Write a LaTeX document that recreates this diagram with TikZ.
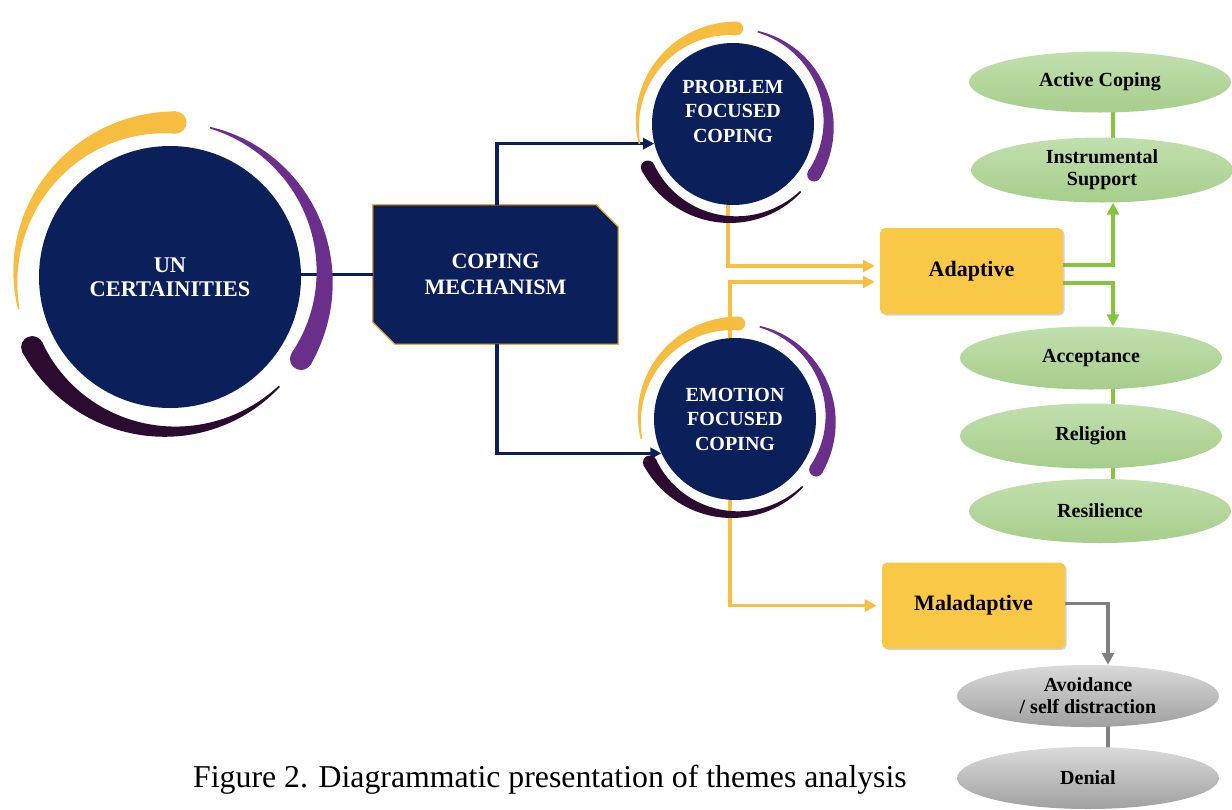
\documentclass[tikz,border=0pt]{standalone}
\usepackage{fontspec}
\setmainfont{Liberation Serif}
\usetikzlibrary{shapes.geometric,arrows.meta,shadows,backgrounds}

\definecolor{navy}{HTML}{0B1F5B}
\definecolor{ringyellow}{HTML}{F6BD41}
\definecolor{ringpurple}{HTML}{6A2F8B}
\definecolor{ringdark}{HTML}{2B0B30}
\definecolor{boxyellow}{HTML}{F9C846}
\definecolor{boxedge}{HTML}{E3AE35}
\definecolor{linkyellow}{HTML}{F8BE45}
\definecolor{leafgreen}{HTML}{A6CE8B}
\definecolor{leafgreenlight}{HTML}{C2DFAE}
\definecolor{linkgreen}{HTML}{86C440}
\definecolor{leafgray}{HTML}{A0A0A0}
\definecolor{leafgraylight}{HTML}{DADADA}
\definecolor{linkgray}{HTML}{808080}

% tapered arc around a hub: centre x, centre y, radius, thin-end angle, thick-end angle, max width, colour
\newcommand\taperarc[7]{%
  \fill[#7] plot[domain=#4:#5, samples=70, variable=\t]
      ({#1+(#3+(0.8+(#6/2-0.8)*(#4-\t)/(#4-#5)))*cos(\t)},
       {#2-(#3+(0.8+(#6/2-0.8)*(#4-\t)/(#4-#5)))*sin(\t)})
    -- plot[domain=#5:#4, samples=70, variable=\t]
      ({#1+(#3-(0.8+(#6/2-0.8)*(#4-\t)/(#4-#5)))*cos(\t)},
       {#2-(#3-(0.8+(#6/2-0.8)*(#4-\t)/(#4-#5)))*sin(\t)})
    -- cycle;
  \fill[#7] ({#1+#3*cos(#5)},{#2-#3*sin(#5)}) circle[radius={#6*0.5pt}];
}
% the three coloured rings of a hub of radius #3 centred at (#1,#2)
\newcommand\hubrings[3]{%
  \pgfmathsetmacro\ringrad{1.18*#3}%
  \pgfmathsetmacro\ringwid{0.17*#3}%
  \taperarc{#1}{#2}{\ringrad}{192}{88}{\ringwid}{ringyellow}
  \taperarc{#1}{#2}{\ringrad}{75}{-32}{\ringwid}{ringpurple}
  \taperarc{#1}{#2}{\ringrad}{-45}{-153}{\ringwid}{ringdark}
}

\tikzset{
  hub/.style={circle, fill=navy, inner sep=0pt, text=white, align=center,
    font=\fontsize{20}{24.5}\selectfont\bfseries},
  bighub/.style={hub, font=\fontsize{22.4}{24}\selectfont\bfseries},
  mechbox/.style={rectangle, inner sep=0pt, text=white, align=center,
    minimum width=245pt, minimum height=139pt,
    font=\fontsize{22}{26}\selectfont\bfseries},
  mechedge/.style={fill=navy, draw=boxedge, line width=1.2pt},
  stylebox/.style={rectangle, rounded corners=5pt, fill=boxyellow,
    minimum width=183pt, minimum height=86pt,
    drop shadow={shadow xshift=1.5pt, shadow yshift=-1.5pt, opacity=0.35},
    font=\fontsize{22}{26}\selectfont\bfseries},
  greenleaf/.style={ellipse, inner sep=0pt, minimum width=262pt, minimum height=63pt,
    top color=leafgreenlight, bottom color=leafgreen, align=center,
    font=\fontsize{20}{22}\selectfont\bfseries},
  grayleaf/.style={ellipse, inner sep=0pt, minimum width=262pt, minimum height=62pt,
    top color=leafgraylight, bottom color=leafgray, align=center,
    font=\fontsize{20}{22}\selectfont\bfseries},
  navylink/.style={draw=navy, line width=3.3pt},
  navyarrow/.style={navylink, -{Triangle[length=11pt,width=11pt]}},
  yellowarrow/.style={draw=linkyellow, line width=3.5pt, -{Triangle[length=12pt,width=12pt]}},
  greenlink/.style={draw=linkgreen, line width=3.5pt},
  greenarrow/.style={greenlink, -{Triangle[length=12pt,width=12pt]}},
  graylink/.style={draw=linkgray, line width=3.5pt},
  grayarrow/.style={graylink, -{Triangle[length=12pt,width=12pt]}},
  captiontext/.style={anchor=base west, inner sep=0pt, font=\fontsize{31.8}{36}\selectfont}
}

\begin{document}
\begin{tikzpicture}[x=1pt, y=-1pt]
\useasboundingbox (0,0) rectangle (1232,809);

% hubs
\node[bighub, minimum size=262pt] (uc) at (170,277) {UN\\CERTAINITIES};
\node[mechbox] (cm) at (495.5,274.5) {COPING\\MECHANISM};
\node[hub, minimum size=162pt, text depth=26pt] (pfc) at (733,124) {PROBLEM\\FOCUSED\\COPING};
\node[hub, minimum size=162pt] (efc) at (735,419) {EMOTION\\FOCUSED\\COPING};

% coping styles
\node[stylebox] (adp) at (971.5,271) {Adaptive};
\node[stylebox] (mal) at (973.5,605.5) {Maladaptive};

% adaptive strategies
\node[greenleaf, minimum height=61pt] (act) at (1100,82) {Active Coping};
\node[greenleaf, minimum height=65pt] (ins) at (1102,170) {Instrumental\\Support};
\node[greenleaf] (acc) at (1091,358) {Acceptance};
\node[greenleaf, minimum height=65pt] (rel) at (1091,436) {Religion};
\node[greenleaf, minimum height=64pt] (res) at (1100,511) {Resilience};

% maladaptive strategies
\node[grayleaf] (avo) at (1088,696) {Avoidance\\/ self distraction};
\node[grayleaf] (den) at (1088,778) {Denial};

\node[captiontext] (cap) at (193,787) {Figure 2. Diagrammatic presentation of themes analysis};

\coordinate (gx) at (1113,0);
\coordinate (kx) at (1108,0);

\begin{pgfonlayer}{background}
  % chamfered panel behind the mechanism label
  \path[mechedge] (cm.north west) -- ([xshift=-22pt]cm.north east)
    -- ([yshift=-22pt]cm.north east) -- (cm.south east)
    -- ([xshift=22pt]cm.south west) -- ([yshift=22pt]cm.south west) -- cycle;
  % navy links
  \draw[navylink] (cm.west) -- (cm.west -| uc.east);
  \draw[navyarrow] ([xshift=1.5pt]cm.north) |- (pfc.194);
  \draw[navyarrow] ([xshift=1.5pt]cm.south) |- (efc.205);
  % yellow links
  \draw[yellowarrow] ([xshift=-5pt]pfc.south) |- ([xshift=-5pt,yshift=5pt]adp.west);
  \draw[yellowarrow] ([xshift=-5pt]efc.north) |- ([xshift=-5pt,yshift=-11pt]adp.west);
  \draw[yellowarrow] ([xshift=-5pt]efc.south) |- ([xshift=-5pt]mal.west);
  % green links
  \draw[greenarrow] ([yshift=6pt]adp.east) -| (ins.south -| gx);
  \draw[greenarrow] ([yshift=-12pt]adp.east) -| (acc.north -| gx);
  \draw[greenlink] (act -| gx) -- (ins -| gx);
  \draw[greenlink] (acc -| gx) -- (rel -| gx);
  \draw[greenlink] (rel -| gx) -- (res -| gx);
  % gray links
  \draw[grayarrow] ([yshift=2pt]mal.east) -| (avo.north -| kx);
  \draw[graylink] (avo -| kx) -- (den -| kx);
\end{pgfonlayer}

% coloured rings around the hubs
\hubrings{170}{277}{131}
\hubrings{733}{124}{81}
\hubrings{735}{419}{81}
\end{tikzpicture}
\end{document}
